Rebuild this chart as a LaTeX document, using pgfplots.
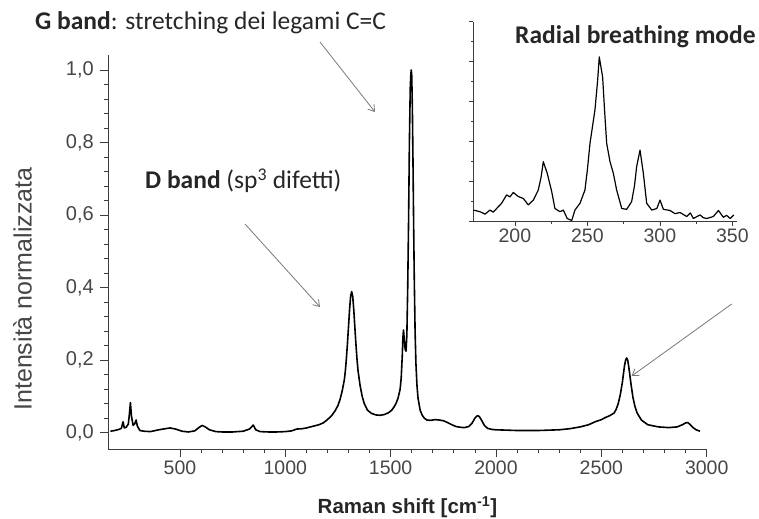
\documentclass[border=0pt]{standalone}
\usepackage{fontspec}
\setmainfont{Liberation Sans}
\newfontfamily\calibri{Carlito}
\usepackage{pgfplots}
\pgfplotsset{compat=1.18}
\usetikzlibrary{arrows.meta}
\definecolor{axisgray}{RGB}{60,60,60}
\definecolor{txtgray}{RGB}{70,70,70}
\definecolor{arrowgray}{RGB}{120,120,120}
\begin{document}
\begin{tikzpicture}
\path[use as bounding box] (0,0) rectangle (759bp,519bp);
\begin{axis}[
  scale only axis, width=598.4bp, height=394.3bp,
  at={(108.3bp,69.7bp)}, anchor=south west,
  xmin=160, xmax=3000, ymin=-0.0458, ymax=1.0414,
  axis x line=bottom, axis y line=left,
  axis line style={-, line width=1bp, axisgray},
  xtick={500,1000,1500,2000,2500,3000}, minor x tick num=4,
  ytick={0,0.2,0.4,0.6,0.8,1.0}, minor y tick num=4,
  tick align=outside, major tick length=8bp, minor tick length=4bp,
  tick style={axisgray, line width=0.8bp},
  /pgf/number format/assume math mode=true,
  xticklabel style={font=\fontsize{19.5bp}{21bp}\selectfont, text=txtgray, /pgf/number format/1000 sep={}},
  yticklabel style={font=\fontsize{20bp}{22bp}\selectfont, text=txtgray, xshift=-3bp, /pgf/number format/.cd, fixed, fixed zerofill, precision=1, use comma},
  xlabel={\textbf{Raman shift [cm\textsuperscript{-1}]}},
  ylabel={Intensità normalizzata},
  every axis x label/.style={at={(axis description cs:0.5,0)}, anchor=center, yshift=-57.7bp, font=\fontsize{20.5bp}{22bp}\selectfont, text=black!85},
  every axis y label/.style={at={(axis description cs:-0.1434,0.4065)}, anchor=center, rotate=90, font=\fontsize{25bp}{27bp}\selectfont, text=txtgray},
  clip=false,
]
\addplot[black, line width=1.6bp, line join=round] table {
170 0.004
190 0.006
210 0.009
222 0.012
230 0.030
236 0.013
245 0.015
255 0.024
260 0.050
265 0.083
270 0.045
278 0.020
285 0.024
292 0.035
298 0.018
310 0.006
330 0.004
360 0.003
400 0.008
430 0.011
453 0.013
480 0.010
510 0.004
540 0.002
570 0.005
590 0.014
605 0.020
620 0.016
640 0.008
670 0.003
700 0.002
750 0.002
800 0.004
830 0.010
848 0.021
860 0.008
880 0.003
920 0.002
960 0.002
1000 0.003
1030 0.005
1054 0.010
1080 0.011
1100 0.013
1120 0.016
1140 0.019
1160 0.022
1180 0.027
1200 0.036
1220 0.047
1236 0.060
1250 0.075
1260 0.092
1270 0.115
1280 0.145
1285 0.170
1290 0.205
1295 0.246
1300 0.292
1305 0.339
1310 0.376
1315 0.389
1320 0.376
1325 0.339
1330 0.292
1335 0.246
1340 0.205
1345 0.172
1355 0.130
1365 0.100
1375 0.080
1390 0.062
1410 0.053
1430 0.049
1450 0.048
1470 0.050
1490 0.055
1505 0.062
1515 0.070
1525 0.080
1535 0.095
1545 0.120
1550 0.150
1555 0.210
1558 0.260
1561 0.283
1564 0.262
1567 0.238
1570 0.228
1573 0.225
1577 0.270
1581 0.400
1585 0.580
1589 0.800
1593 0.950
1596 0.990
1598 1.000
1600 0.985
1603 0.900
1606 0.750
1609 0.580
1612 0.430
1616 0.280
1620 0.190
1625 0.130
1630 0.095
1640 0.062
1650 0.048
1660 0.040
1672 0.035
1690 0.034
1710 0.036
1730 0.035
1750 0.033
1770 0.028
1790 0.022
1810 0.017
1830 0.015
1850 0.014
1870 0.017
1885 0.025
1900 0.040
1912 0.047
1920 0.045
1930 0.036
1945 0.020
1960 0.012
1980 0.009
2000 0.008
2050 0.007
2100 0.006
2150 0.006
2200 0.006
2250 0.007
2300 0.008
2350 0.011
2400 0.016
2440 0.022
2470 0.030
2500 0.036
2520 0.042
2540 0.047
2560 0.054
2570 0.064
2580 0.080
2590 0.105
2600 0.140
2605 0.163
2610 0.185
2615 0.200
2620 0.206
2625 0.200
2630 0.182
2635 0.160
2640 0.137
2650 0.097
2660 0.071
2670 0.054
2690 0.035
2720 0.022
2770 0.016
2820 0.014
2860 0.016
2885 0.022
2900 0.027
2910 0.028
2920 0.023
2935 0.014
2950 0.008
2968 0.004
};
\end{axis}
\begin{axis}[
  scale only axis, width=263.4bp, height=200bp,
  at={(473.3bp,297.3bp)}, anchor=south west,
  xmin=171.3, xmax=353, ymin=0, ymax=5,
  axis x line=bottom, axis y line=left,
  axis line style={-, line width=0.7bp, axisgray},
  xtick={200,250,300,350}, minor x tick num=1,
  ytick={0,1,2,3,4,5}, yticklabels={}, minor y tick num=1,
  tick align=outside, major tick length=4bp, minor tick length=2.5bp,
  tick style={axisgray, line width=0.6bp},
  /pgf/number format/assume math mode=true,
  xticklabel style={font=\fontsize{19.5bp}{21bp}\selectfont, text=txtgray},
]
\addplot[black, line width=1.2bp, line join=round] table {
171.3 0.29
175.9 0.25
179.4 0.19
182.8 0.29
185.0 0.24
187.4 0.33
190.8 0.46
194.3 0.67
196.5 0.62
198.9 0.73
202.3 0.63
205.8 0.58
209.2 0.42
212.7 0.54
216.1 0.79
218.0 1.10
219.6 1.50
222.3 1.21
225.4 0.75
227.6 0.33
231.1 0.25
233.4 0.29
236.1 0.08
239.2 0.03
241.4 0.29
244.9 0.46
248.3 0.79
250.0 1.30
251.8 1.96
255.2 2.79
257.0 3.50
258.2 4.12
260.5 3.62
262.0 2.70
263.3 1.96
265.6 1.50
267.9 1.21
270.2 0.79
273.7 0.33
277.1 0.31
280.5 0.50
282.5 0.90
284.0 1.38
286.3 1.79
288.6 1.21
290.9 0.46
294.4 0.29
297.9 0.33
300.1 0.54
302.4 0.31
307.0 0.28
310.5 0.20
313.9 0.23
318.5 0.13
321.0 0.22
323.1 0.08
327.7 0.17
330.0 0.10
332.3 0.08
336.9 0.13
340.4 0.28
343.8 0.11
346.0 0.16
348.5 0.08
351.0 0.17
};
\end{axis}
\node[anchor=base west, inner sep=0, text=black!85, font=\calibri\fontsize{25.5bp}{27bp}\selectfont] at (35bp,489bp) {\textbf{G band}: stretching dei legami C=C};
\node[anchor=base west, inner sep=0, text=black!85, font=\calibri\fontsize{25.5bp}{27bp}\selectfont] at (145bp,330bp) {\textbf{D band} (sp\textsuperscript{3} difetti)};
\node[anchor=base west, inner sep=0, text=black!85, font=\calibri\bfseries\fontsize{25.5bp}{27bp}\selectfont] at (515bp,475bp) {Radial breathing mode};
\draw[arrowgray, line width=0.8bp, -{Straight Barb[length=6bp,width=8bp]}] (320bp,477bp) -- (375bp,407bp);
\draw[arrowgray, line width=0.8bp, -{Straight Barb[length=6bp,width=8bp]}] (245bp,295bp) -- (320bp,212bp);
\draw[arrowgray, line width=0.8bp, -{Straight Barb[length=6bp,width=8bp]}] (731.7bp,215bp) -- (631.7bp,143bp);
\end{tikzpicture}
\end{document}
